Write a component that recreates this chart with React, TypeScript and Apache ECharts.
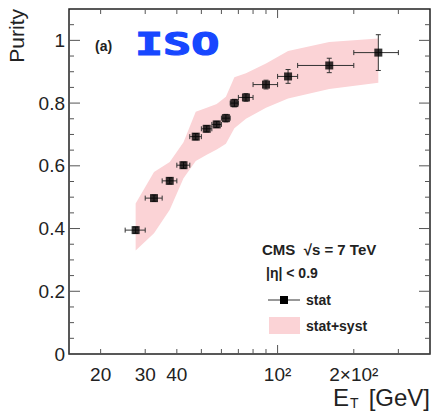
import React, { useEffect, useRef } from 'react';
import * as echarts from 'echarts';

// E_T bins (GeV)
const etCenters = [27.5, 32.5, 37.5, 42.5, 47.5, 52.5, 57.5, 62.5, 67.5, 75, 90, 110, 160, 250];
const etLow = [25, 30, 35, 40, 45, 50, 55, 60, 65, 70, 80, 100, 120, 200];
const etHigh = [30, 35, 40, 45, 50, 55, 60, 65, 70, 80, 100, 120, 200, 300];
// purity with stat errors
const purity = [0.395, 0.497, 0.552, 0.602, 0.693, 0.718, 0.732, 0.752, 0.8, 0.818, 0.859, 0.885, 0.92, 0.961];
const statErr = [0.01, 0.01, 0.01, 0.01, 0.01, 0.01, 0.01, 0.012, 0.012, 0.012, 0.014, 0.022, 0.023, 0.057];
// stat+syst band
const bandUpper = [0.48, 0.58, 0.612, 0.675, 0.772, 0.785, 0.797, 0.82, 0.882, 0.895, 0.926, 0.966, 0.995, 1.006];
const bandLower = [0.33, 0.385, 0.46, 0.56, 0.615, 0.635, 0.652, 0.67, 0.72, 0.75, 0.785, 0.815, 0.845, 0.865];

// ticks
const xMajorTicks = [100];
const xMinorTicks = [20, 30, 40, 50, 60, 70, 80, 90, 200, 300];
const xLabelValues = [20, 30, 40, 100, 200];
const xLabelTexts = ['20', '30', '40', '10²', '2×10²'];
const yMajorTicks = [0, 0.2, 0.4, 0.6, 0.8, 1.0];
const yMinorTicks = [0.05, 0.1, 0.15, 0.25, 0.3, 0.35, 0.45, 0.5, 0.55, 0.65, 0.7, 0.75, 0.85, 0.9, 0.95, 1.05];

const X_MIN = 15;
const X_MAX = 400;
const Y_MIN = 0;
const Y_MAX = 1.1;

const FONT = '"Liberation Sans", Arial, Helvetica, sans-serif';
const PINK = '#fbd3d6';
const TICK = '#555';
const BLUE = '#1747ff';

export default function App() {
  const ref = useRef<HTMLDivElement>(null);
  useEffect(() => {
    if (!ref.current) return;
    const chart = echarts.init(ref.current, null, { renderer: 'svg' });

    const xTickData = [
      ...xMajorTicks.map((v) => [v, 0.5, 1]),
      ...xMinorTicks.map((v) => [v, 0.5, 0]),
    ];
    const yTickData = [
      ...yMajorTicks.map((v) => [100, v, 1]),
      ...yMinorTicks.map((v) => [100, v, 0]),
    ];

    const option: any = {
      animation: false,
      backgroundColor: '#fff',
      grid: {
        left: 69,
        top: 9,
        right: 3,
        bottom: 57,
        show: true,
        borderColor: '#222',
        borderWidth: 1.5,
        backgroundColor: 'transparent',
      },
      xAxis: {
        type: 'log',
        logBase: 10,
        min: X_MIN,
        max: X_MAX,
        axisLine: { show: false },
        axisTick: { show: false },
        axisLabel: { show: false },
        splitLine: { show: false },
      },
      yAxis: {
        type: 'value',
        min: Y_MIN,
        max: Y_MAX,
        interval: 0.2,
        axisLine: { show: false },
        axisTick: { show: false },
        splitLine: { show: false },
        axisLabel: {
          margin: 4,
          fontSize: 19,
          fontFamily: FONT,
          color: '#222',
          formatter: (v: number) => (v > 1.01 ? '' : String(Math.round(v * 10) / 10)),
        },
      },
      series: [
        {
          name: 'stat+syst',
          type: 'custom',
          z: 1,
          encode: { x: 0, y: [1, 2] },
          data: etCenters.map((x, i) => [x, bandLower[i], bandUpper[i]]),
          renderItem: (params: any, api: any) => {
            if (params.dataIndex !== 0) return null;
            const pts: number[][] = [];
            for (let i = 0; i < etCenters.length; i++) pts.push(api.coord([etCenters[i], bandUpper[i]]));
            for (let i = etCenters.length - 1; i >= 0; i--) pts.push(api.coord([etCenters[i], bandLower[i]]));
            return {
              type: 'polygon',
              shape: { points: pts },
              style: { fill: PINK, stroke: 'none' },
            };
          },
        },
        {
          name: 'stat errors',
          type: 'custom',
          z: 3,
          encode: { x: 0, y: 1 },
          data: etCenters.map((x, i) => [x, purity[i], etLow[i], etHigh[i], statErr[i]]),
          renderItem: (params: any, api: any) => {
            const x = api.value(0);
            const y = api.value(1);
            const lo = api.value(2);
            const hi = api.value(3);
            const e = api.value(4);
            const pl = api.coord([lo, y]);
            const ph = api.coord([hi, y]);
            const pt = api.coord([x, y + e]);
            const pb = api.coord([x, y - e]);
            const st = { stroke: '#333', lineWidth: 1 };
            const c = 2.5;
            return {
              type: 'group',
              children: [
                { type: 'line', shape: { x1: pl[0], y1: pl[1], x2: ph[0], y2: ph[1] }, style: st },
                { type: 'line', shape: { x1: pt[0], y1: pt[1], x2: pb[0], y2: pb[1] }, style: st },
                { type: 'line', shape: { x1: pl[0], y1: pl[1] - c, x2: pl[0], y2: pl[1] + c }, style: st },
                { type: 'line', shape: { x1: ph[0], y1: ph[1] - c, x2: ph[0], y2: ph[1] + c }, style: st },
                { type: 'line', shape: { x1: pt[0] - c, y1: pt[1], x2: pt[0] + c, y2: pt[1] }, style: st },
                { type: 'line', shape: { x1: pb[0] - c, y1: pb[1], x2: pb[0] + c, y2: pb[1] }, style: st },
              ],
            };
          },
        },
        {
          name: 'stat',
          type: 'scatter',
          z: 4,
          symbol: 'rect',
          symbolSize: 8,
          itemStyle: { color: '#000' },
          data: etCenters.map((x, i) => [x, purity[i]]),
        },
        {
          name: 'x ticks',
          type: 'custom',
          z: 5,
          silent: true,
          encode: { x: 0, y: 1 },
          data: xTickData,
          renderItem: (params: any, api: any) => {
            const v = api.value(0);
            const len = api.value(2) ? 9 : 5;
            const b = api.coord([v, Y_MIN]);
            const t = api.coord([v, Y_MAX]);
            const st = { stroke: TICK, lineWidth: 1 };
            return {
              type: 'group',
              children: [
                { type: 'line', shape: { x1: b[0], y1: b[1], x2: b[0], y2: b[1] - len }, style: st },
                { type: 'line', shape: { x1: t[0], y1: t[1], x2: t[0], y2: t[1] + len }, style: st },
              ],
            };
          },
        },
        {
          name: 'y ticks',
          type: 'custom',
          z: 5,
          silent: true,
          encode: { x: 0, y: 1 },
          data: yTickData,
          renderItem: (params: any, api: any) => {
            const v = api.value(1);
            const len = api.value(2) ? 11 : 5;
            const l = api.coord([X_MIN, v]);
            const r = api.coord([X_MAX, v]);
            const st = { stroke: TICK, lineWidth: 1 };
            return {
              type: 'group',
              children: [
                { type: 'line', shape: { x1: l[0], y1: l[1], x2: l[0] + len, y2: l[1] }, style: st },
                { type: 'line', shape: { x1: r[0], y1: r[1], x2: r[0] - len, y2: r[1] }, style: st },
              ],
            };
          },
        },
        {
          name: 'x labels',
          type: 'custom',
          z: 5,
          silent: true,
          encode: { x: 0, y: 1 },
          data: xLabelValues.map((v) => [v, Y_MIN]),
          renderItem: (params: any, api: any) => {
            const p = api.coord([api.value(0), Y_MIN]);
            return {
              type: 'text',
              x: p[0],
              y: p[1] + 11,
              style: {
                text: xLabelTexts[params.dataIndex],
                fontSize: 19,
                fontFamily: FONT,
                fill: '#222',
                align: 'center',
                verticalAlign: 'top',
              },
            };
          },
        },
      ],
      graphic: [
        {
          type: 'text',
          x: 16,
          y: 9,
          rotation: Math.PI / 2,
          style: {
            text: 'Purity',
            fontSize: 21,
            fontFamily: FONT,
            fill: '#222',
            align: 'right',
            verticalAlign: 'middle',
          },
        },
        {
          type: 'text',
          x: 349,
          y: 397,
          style: { text: 'E', fontSize: 24, fontFamily: FONT, fill: '#222', align: 'right', verticalAlign: 'middle' },
        },
        {
          type: 'text',
          x: 350,
          y: 403,
          style: { text: 'T', fontSize: 14, fontFamily: FONT, fill: '#222', align: 'left', verticalAlign: 'middle' },
        },
        {
          type: 'text',
          x: 430,
          y: 397,
          style: { text: '[GeV]', fontSize: 24, fontFamily: FONT, fill: '#222', align: 'right', verticalAlign: 'middle' },
        },
        {
          type: 'text',
          x: 95,
          y: 46,
          style: { text: '(a)', fontSize: 14, fontWeight: 'bold', fontFamily: FONT, fill: '#222', align: 'left', verticalAlign: 'middle' },
        },
        {
          type: 'text',
          x: 135,
          y: 44,
          scaleX: 1.46,
          style: {
            text: 'ISO',
            fontSize: 32,
            fontWeight: 'bold',
            fontFamily: '"DejaVu Sans Mono", monospace',
            fill: BLUE,
            stroke: BLUE,
            lineWidth: 1.2,
            align: 'left',
            verticalAlign: 'middle',
          },
        },
        {
          type: 'text',
          x: 262,
          y: 249,
          style: { text: 'CMS  √s = 7 TeV', fontSize: 15, fontWeight: 'bold', fontFamily: FONT, fill: '#222', align: 'left', verticalAlign: 'middle' },
        },
        {
          type: 'text',
          x: 266,
          y: 273,
          style: { text: '|η| < 0.9', fontSize: 14, fontWeight: 'bold', fontFamily: FONT, fill: '#222', align: 'left', verticalAlign: 'middle' },
        },
        {
          type: 'line',
          shape: { x1: 268, y1: 300, x2: 300, y2: 300 },
          style: { stroke: '#333', lineWidth: 1 },
        },
        {
          type: 'rect',
          shape: { x: 280, y: 296, width: 8, height: 8 },
          style: { fill: '#000' },
        },
        {
          type: 'text',
          x: 306,
          y: 300,
          style: { text: 'stat', fontSize: 14, fontWeight: 'bold', fontFamily: FONT, fill: '#222', align: 'left', verticalAlign: 'middle' },
        },
        {
          type: 'rect',
          shape: { x: 269, y: 317, width: 31, height: 17 },
          style: { fill: PINK },
        },
        {
          type: 'text',
          x: 306,
          y: 326,
          style: { text: 'stat+syst', fontSize: 14, fontWeight: 'bold', fontFamily: FONT, fill: '#222', align: 'left', verticalAlign: 'middle' },
        },
      ],
    };

    chart.setOption(option);
    return () => {
      chart.dispose();
    };
  }, []);

  return (
    <div
      ref={ref}
      style={{ position: 'fixed', left: 0, top: 0, width: 433, height: 411, background: '#fff' }}
    />
  );
}
